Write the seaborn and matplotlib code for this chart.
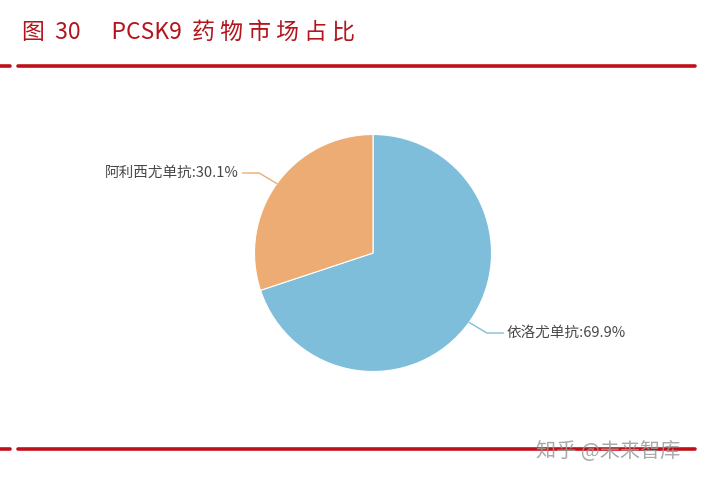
import numpy as np
import seaborn as sns
import matplotlib
matplotlib.use("Agg")
import matplotlib.pyplot as plt

# data
drugs = ["依洛尤单抗", "阿利西尤单抗"]
shares = [69.9, 30.1]
colors = ["#7fbedb", "#ecac74"]
title = "图  30      PCSK9  药 物 市 场 占 比"
watermark = "知乎 @未来智库"

sns.set_theme(style="white")
plt.rcParams["font.family"] = ["Noto Sans CJK SC", "DejaVu Sans"]

W, H = 702, 479
fig = plt.figure(figsize=(W / 100, H / 100), dpi=100)
fig.patch.set_facecolor("white")

# title and red rules
red = "#bf1019"
fig.text(22 / W, 1 - 32 / H, title, color="#b3151d", fontsize=16.5,
         va="center", ha="left")
for y in (66, 449):
    yy = 1 - y / H
    fig.add_artist(plt.Line2D([0, 10 / W], [yy, yy], color=red, lw=2.6))
    fig.add_artist(plt.Line2D([18 / W, 695 / W], [yy, yy], color=red, lw=2.6))
fig.text(536 / W, 1 - 451 / H, watermark, color="#9a9a9a", fontsize=14.5,
         va="center", ha="left", alpha=0.85)

# pie
cx, cy, r = 373, 253, 118.5
ax = fig.add_axes([(cx - r) / W, (H - cy - r) / H, 2 * r / W, 2 * r / H])
wedges, _ = ax.pie(shares, colors=colors, startangle=90, counterclock=False,
                   radius=1, wedgeprops=dict(edgecolor="white", linewidth=0.8))
ax.set_xlim(-1, 1)
ax.set_ylim(-1, 1)
ax.set_aspect("equal")
ax.axis("off")

for w, name, val, c in zip(wedges, drugs, shares, colors):
    mid = np.deg2rad((w.theta1 + w.theta2) / 2)
    x0, y0 = np.cos(mid), np.sin(mid)
    side = np.sign(x0)
    x1, y1 = x0 + side * 0.15, y0 + np.sign(y0) * 0.09
    x2 = x1 + side * 0.14
    ax.plot([x0, x1, x2], [y0, y1, y1], color=c, lw=1, clip_on=False)
    ax.text(x2 + side * 0.03, y1, f"{name}:{val}%", color="#484848",
            fontsize=10.5, va="center", ha="left" if side > 0 else "right",
            clip_on=False)

fig.savefig("out.png", dpi=100, facecolor="white")
